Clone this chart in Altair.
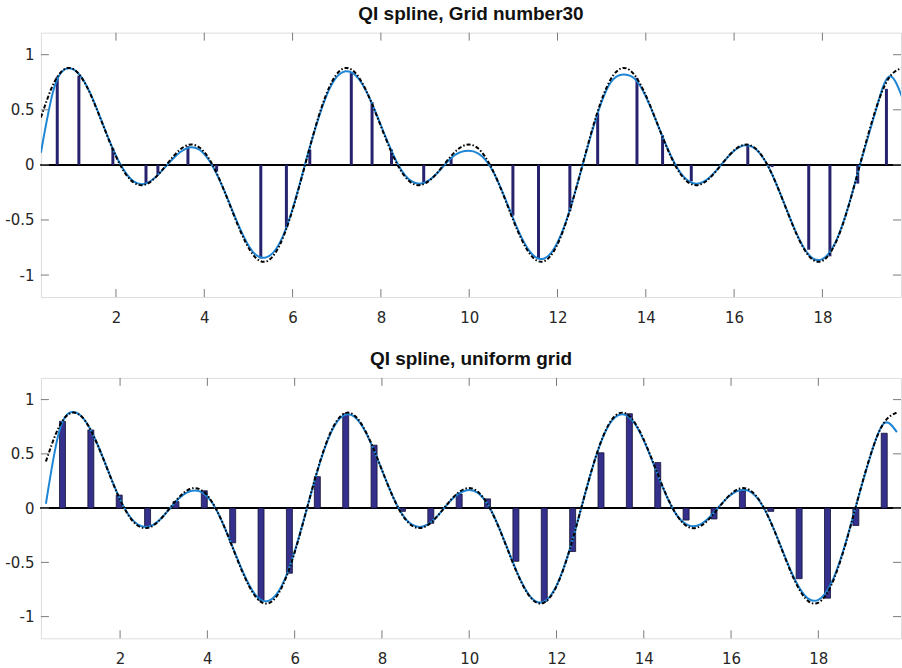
import altair as alt
import pandas as pd

# ---------------- data ----------------
x_curve = [0.3, 0.6, 0.9, 1.2, 1.5, 1.8, 2.1, 2.4, 2.7, 3.0, 3.3, 3.6, 3.9, 4.2, 4.5,
           4.8, 5.1, 5.4, 5.7, 6.0, 6.3, 6.6, 6.9, 7.2, 7.5, 7.8, 8.1, 8.4, 8.7, 9.0,
           9.3, 9.6, 9.9, 10.2, 10.5, 10.8, 11.1, 11.4, 11.7, 12.0, 12.3, 12.6, 12.9,
           13.2, 13.5, 13.8, 14.1, 14.4, 14.7, 15.0, 15.3, 15.6, 15.9, 16.2, 16.5,
           16.8, 17.1, 17.4, 17.7, 18.0, 18.3, 18.6, 18.9, 19.2, 19.5, 19.8]

exact_vals = [0.430, 0.748, 0.879, 0.804, 0.569, 0.266, -0.004, -0.160, -0.173, -0.069,
              0.077, 0.176, 0.155, -0.009, -0.283, -0.585, -0.813, -0.877, -0.735, -0.408,
              0.025, 0.452, 0.761, 0.880, 0.794, 0.553, 0.249, -0.017, -0.165, -0.169,
              -0.061, 0.085, 0.178, 0.150, -0.022, -0.300, -0.601, -0.821, -0.874, -0.721,
              -0.386, 0.050, 0.473, 0.773, 0.880, 0.784, 0.537, 0.232, -0.028, -0.169,
              -0.166, -0.053, 0.092, 0.180, 0.144, -0.035, -0.317, -0.616, -0.830, -0.871,
              -0.707, -0.363, 0.076, 0.494, 0.785, 0.880]

spline_top = [0.11, 0.70, 0.875, 0.805, 0.575, 0.27, 0.005, -0.15, -0.165, -0.07,
              0.06, 0.15, 0.135, -0.02, -0.28, -0.57, -0.79, -0.84, -0.715, -0.40,
              0.03, 0.44, 0.74, 0.85, 0.78, 0.555, 0.26, -0.005, -0.15, -0.16,
              -0.065, 0.065, 0.125, 0.105, -0.03, -0.29, -0.585, -0.80, -0.85, -0.705,
              -0.38, 0.045, 0.455, 0.745, 0.82, 0.76, 0.53, 0.235, -0.02, -0.155,
              -0.155, -0.05, 0.09, 0.175, 0.14, -0.035, -0.315, -0.61, -0.82, -0.855,
              -0.70, -0.36, 0.07, 0.48, 0.80, 0.62]

spline_bottom = [0.04, 0.70, 0.885, 0.805, 0.57, 0.27, 0.0, -0.15, -0.165, -0.07,
                 0.07, 0.155, 0.14, -0.01, -0.28, -0.575, -0.80, -0.855, -0.72, -0.40,
                 0.025, 0.445, 0.75, 0.865, 0.785, 0.55, 0.25, -0.015, -0.155, -0.16,
                 -0.06, 0.08, 0.16, 0.14, -0.02, -0.295, -0.595, -0.815, -0.865, -0.715,
                 -0.385, 0.05, 0.47, 0.765, 0.865, 0.775, 0.53, 0.225, -0.03, -0.155,
                 -0.15, -0.045, 0.09, 0.165, 0.135, -0.035, -0.31, -0.605, -0.81, -0.845,
                 -0.69, -0.355, 0.075, 0.49, 0.78, 0.70]

grid_top_x = [0.67, 1.16, 1.93, 2.68, 2.95, 3.63, 4.28, 5.28, 5.86, 6.39, 7.33, 7.80,
              8.24, 8.97, 9.59, 10.99, 11.57, 12.28, 12.91, 13.80, 14.38, 15.03, 16.31,
              16.86, 17.69, 18.17, 18.80, 19.45]
grid_top_y = [0.80, 0.81, 0.15, -0.17, -0.09, 0.17, -0.06, -0.85, -0.57, 0.14, 0.84, 0.57,
              0.14, -0.16, 0.07, -0.46, -0.85, -0.42, 0.47, 0.79, 0.27, -0.15, 0.18,
              -0.02, -0.77, -0.83, -0.17, 0.69]

grid_bot_x = [0.68, 1.33, 1.98, 2.63, 3.28, 3.93, 4.58, 5.23, 5.88, 6.52, 7.17, 7.82,
              8.47, 9.12, 9.77, 10.42, 11.07, 11.72, 12.37, 13.02, 13.67, 14.32, 14.97,
              15.61, 16.26, 16.91, 17.56, 18.21, 18.86, 19.51]
grid_bot_y = [0.80, 0.72, 0.12, -0.17, 0.06, 0.16, -0.32, -0.85, -0.60, 0.29, 0.87, 0.58,
              -0.03, -0.14, 0.13, 0.085, -0.49, -0.86, -0.40, 0.51, 0.87, 0.42, -0.11,
              -0.10, 0.16, -0.03, -0.65, -0.83, -0.16, 0.69]

x_ticks = [2, 4, 6, 8, 10, 12, 14, 16, 18]
y_ticks = [-1, -0.5, 0, 0.5, 1]
titles = ["QI spline, Grid number30", "QI spline, uniform grid"]

X_DOMAIN = [0.3, 19.78]
Y_DOMAIN = [-1.2, 1.2]
W = 862
FRAME = "#7a7a7a"
LABEL_FONT = "DejaVu Sans"


def panel(title, spline_vals, gx, gy, height, wide):
    curves = pd.DataFrame({"x": x_curve, "exact": exact_vals, "spline": spline_vals})
    stems = pd.DataFrame({"x": gx, "y": gy})
    xt = pd.DataFrame({"t": x_ticks})
    yt = pd.DataFrame({"t": y_ticks})

    xs = alt.Scale(domain=X_DOMAIN, nice=False, zero=False)
    ys = alt.Scale(domain=Y_DOMAIN, nice=False, zero=False)
    xax = alt.Axis(values=x_ticks, ticks=False, domain=False, grid=False, labelPadding=13,
                   labelFont=LABEL_FONT, labelFontSize=15, labelColor="#262626",
                   labelExpr="'' + datum.value",
                   minExtent=26, maxExtent=26, title=None)
    yax = alt.Axis(values=y_ticks, ticks=False, domain=False, grid=False, labelPadding=7,
                   labelFont=LABEL_FONT, labelFontSize=15, labelColor="#262626",
                   labelExpr="'' + datum.value",
                   minExtent=40, maxExtent=40, title=None)

    base = alt.Chart(curves)

    zero = alt.Chart(stems).mark_rule(color="black", strokeWidth=1).encode(
        y=alt.datum(0, scale=ys, axis=yax))

    if wide:
        st = alt.Chart(stems).mark_bar(size=6, color="#35308c", stroke="#111133",
                                       strokeWidth=0.8).encode(
            x=alt.X("x:Q", scale=xs, axis=xax),
            y=alt.Y("y:Q", scale=ys, axis=yax),
            y2=alt.datum(0))
    else:
        st = alt.Chart(stems).mark_rule(strokeWidth=3, color="#27226e").encode(
            x=alt.X("x:Q", scale=xs, axis=xax),
            y=alt.Y("y:Q", scale=ys, axis=yax),
            y2=alt.datum(0))

    blue = base.mark_line(color="#1f86d6", strokeWidth=2, interpolate="natural",
                          clip=True).encode(
        x=alt.X("x:Q", scale=xs, axis=xax), y=alt.Y("spline:Q", scale=ys, axis=yax))
    black = base.mark_line(color="black", strokeWidth=2, interpolate="natural",
                           strokeDash=[4, 2, 1.5, 2], clip=True).encode(
        x=alt.X("x:Q", scale=xs, axis=xax), y=alt.Y("exact:Q", scale=ys, axis=yax))

    tk = dict(color=FRAME, strokeWidth=1)
    tx_top = alt.Chart(xt).mark_rule(**tk).encode(
        x=alt.X("t:Q", scale=xs, axis=xax), y=alt.value(0), y2=alt.value(8))
    tx_bot = alt.Chart(xt).mark_rule(**tk).encode(
        x=alt.X("t:Q", scale=xs, axis=xax), y=alt.value(height - 8), y2=alt.value(height))
    ty_left = alt.Chart(yt).mark_rule(**tk).encode(
        y=alt.Y("t:Q", scale=ys, axis=yax), x=alt.value(0), x2=alt.value(8))
    ty_right = alt.Chart(yt).mark_rule(**tk).encode(
        y=alt.Y("t:Q", scale=ys, axis=yax), x=alt.value(W - 8), x2=alt.value(W))

    return alt.layer(zero, st, blue, black, tx_top, tx_bot, ty_left, ty_right).properties(
        width=W, height=height,
        title=alt.TitleParams(title, font="Liberation Sans", fontSize=19, fontWeight="bold",
                              color="#111111", anchor="middle", offset=8))


top = panel(titles[0], spline_top, grid_top_x, grid_top_y, 265, False)
bottom = panel(titles[1], spline_bottom, grid_bot_x, grid_bot_y, 261, True)

chart = alt.vconcat(top, bottom, spacing=24).properties(
    padding={"left": 0, "top": 4, "right": 0, "bottom": 0}
).configure_view(stroke=FRAME, strokeWidth=1).configure(background="white")

chart.save("out.html", embed_options={"renderer": "svg", "actions": False})
